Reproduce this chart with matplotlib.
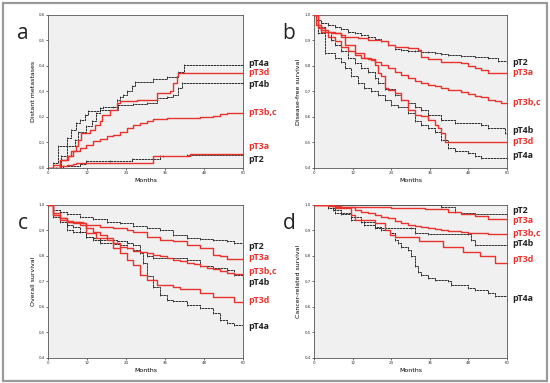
import matplotlib
matplotlib.use('Agg')
from matplotlib import pyplot as plt
from matplotlib.patches import Rectangle

# ---- panel a: distant metastases (cumulative) ----
a_pt2 = [(0, 0), (4.6, 0.007), (9.8, 0.016), (11.8, 0.026), (19.0, 0.029), (25.7, 0.035),
         (34.5, 0.046), (35.5, 0.048), (42.7, 0.052), (60, 0.052)]
a_pt3a = [(0, 0), (3.6, 0.007), (5.7, 0.013), (7.7, 0.016), (8.7, 0.020), (32.4, 0.046),
          (34.5, 0.048), (43.7, 0.056), (60, 0.056)]
a_pt3bc = [(0, 0), (1.5, 0.013), (3.6, 0.033), (5.7, 0.046), (7.7, 0.065), (9.8, 0.078),
           (11.8, 0.089), (13.9, 0.104), (15.9, 0.113), (18.0, 0.124), (20.1, 0.130),
           (22.1, 0.143), (24.2, 0.157), (26.2, 0.170), (28.3, 0.176), (30.4, 0.185),
           (32.4, 0.192), (34.5, 0.193), (36.5, 0.196), (46.8, 0.200), (50.9, 0.205),
           (53.0, 0.213), (55.1, 0.215), (60, 0.215)]
a_pt3d = [(0, 0), (3.6, 0.033), (6.2, 0.046), (7.2, 0.065), (8.7, 0.085), (9.3, 0.111),
          (10.3, 0.137), (12.9, 0.150), (14.4, 0.170), (15.9, 0.183), (16.5, 0.209),
          (19.0, 0.228), (21.1, 0.254), (22.1, 0.261), (27.3, 0.267), (33.4, 0.293),
          (37.6, 0.300), (38.6, 0.333), (39.6, 0.359), (40.1, 0.372), (60, 0.372)]
a_pt4a = [(0, 0), (1.5, 0.02), (3.1, 0.085), (5.7, 0.117), (7.2, 0.150), (8.7, 0.176),
          (9.8, 0.189), (11.3, 0.209), (12.3, 0.222), (15.9, 0.235), (17.0, 0.239),
          (20.1, 0.241), (21.1, 0.267), (22.1, 0.280), (23.2, 0.287), (24.2, 0.300),
          (25.7, 0.322), (26.8, 0.339), (32.4, 0.350), (36.5, 0.355), (40.1, 0.378),
          (41.7, 0.402), (60, 0.402)]
a_pt4b = [(0, 0), (2.6, 0.0), (4.1, 0.046), (5.7, 0.085), (8.2, 0.111), (9.3, 0.143),
          (11.8, 0.163), (13.4, 0.183), (14.9, 0.215), (15.9, 0.228), (21.6, 0.248),
          (26.2, 0.252), (30.4, 0.254), (33.4, 0.274), (36.5, 0.280), (38.6, 0.287),
          (40.1, 0.313), (41.2, 0.335), (60, 0.335)]

# ---- panel b: disease-free survival ----
b_pt2 = [(0, 1.0), (0.7, 0.98), (2.3, 0.967), (4.4, 0.961), (6.4, 0.954), (8.5, 0.944),
         (10.6, 0.935), (12.6, 0.928), (14.7, 0.922), (16.8, 0.915), (18.9, 0.905),
         (20.9, 0.896), (23.0, 0.883), (25.1, 0.866), (27.1, 0.863), (29.2, 0.859),
         (31.3, 0.857), (33.4, 0.854), (35.4, 0.853), (37.5, 0.850), (39.6, 0.846),
         (41.6, 0.843), (45.8, 0.840), (49.9, 0.834), (54.1, 0.830), (57.2, 0.821), (60, 0.811)]
b_pt3a = [(0, 1.0), (1.2, 0.961), (2.3, 0.941), (4.4, 0.935), (6.4, 0.928), (8.5, 0.922),
          (9.5, 0.915), (13.7, 0.909), (16.8, 0.902), (20.9, 0.896), (23.0, 0.883),
          (25.1, 0.876), (29.2, 0.870), (32.3, 0.863), (33.4, 0.837), (35.4, 0.827),
          (39.6, 0.817), (45.8, 0.811), (47.9, 0.800), (49.9, 0.791), (52.0, 0.785),
          (54.1, 0.774), (60, 0.774)]
b_pt3bc = [(0, 1.0), (0.7, 0.961), (2.3, 0.935), (4.4, 0.915), (6.4, 0.896), (8.5, 0.876),
           (10.6, 0.857), (12.6, 0.843), (14.7, 0.833), (16.8, 0.827), (18.9, 0.817),
           (20.9, 0.804), (23.0, 0.791), (25.1, 0.778), (27.1, 0.765), (29.2, 0.752),
           (31.3, 0.743), (33.4, 0.733), (35.4, 0.726), (37.5, 0.720), (39.6, 0.713),
           (41.6, 0.707), (43.7, 0.704), (45.8, 0.696), (47.9, 0.691), (49.9, 0.683),
           (52.0, 0.677), (54.1, 0.667), (56.2, 0.661), (58.2, 0.654), (60, 0.654)]
b_pt3d = [(0, 1.0), (1.2, 0.948), (3.3, 0.935), (5.4, 0.928), (8.5, 0.915), (9.5, 0.883),
          (12.6, 0.850), (15.7, 0.830), (17.8, 0.824), (18.9, 0.804), (19.9, 0.772),
          (20.9, 0.759), (22.0, 0.713), (23.0, 0.707), (25.1, 0.693), (27.1, 0.667),
          (29.2, 0.628), (31.3, 0.609), (33.4, 0.602), (35.4, 0.589), (37.5, 0.570),
          (38.5, 0.557), (39.6, 0.537), (40.6, 0.502), (60, 0.502)]
b_pt4a = [(0, 1.0), (1.2, 0.928), (3.3, 0.850), (6.4, 0.830), (8.5, 0.817), (9.5, 0.791),
          (11.6, 0.759), (13.7, 0.733), (15.7, 0.713), (17.8, 0.700), (19.9, 0.687),
          (22.0, 0.667), (24.0, 0.648), (26.1, 0.641), (29.2, 0.615), (31.3, 0.583),
          (33.4, 0.570), (35.4, 0.557), (37.5, 0.543), (39.6, 0.511), (41.6, 0.478),
          (43.7, 0.465), (47.9, 0.459), (49.9, 0.448), (52.0, 0.439), (60, 0.439)]
b_pt4b = [(0, 1.0), (1.2, 0.954), (3.3, 0.935), (5.4, 0.902), (6.4, 0.883), (8.5, 0.857),
          (10.6, 0.830), (12.6, 0.811), (14.7, 0.791), (16.8, 0.778), (18.9, 0.752),
          (19.9, 0.733), (22.0, 0.709), (25.1, 0.687), (27.1, 0.667), (29.2, 0.654),
          (31.3, 0.641), (33.4, 0.628), (35.4, 0.609), (39.6, 0.589), (43.7, 0.576),
          (52.0, 0.570), (54.1, 0.557), (59.3, 0.537), (60, 0.533)]

# ---- panel c: overall survival ----
c_pt2 = [(0, 1.0), (1.5, 0.98), (3.6, 0.974), (5.7, 0.965), (9.8, 0.954), (13.9, 0.944),
         (18.0, 0.935), (22.1, 0.928), (26.2, 0.918), (30.4, 0.909), (34.5, 0.900),
         (38.6, 0.883), (42.7, 0.872), (46.8, 0.867), (50.9, 0.863), (55.1, 0.857),
         (57.1, 0.850), (60, 0.840)]
c_pt3a = [(0, 1.0), (1.5, 0.961), (3.6, 0.948), (5.7, 0.939), (7.7, 0.935), (9.8, 0.928),
          (11.8, 0.922), (15.9, 0.915), (20.1, 0.909), (24.2, 0.902), (26.2, 0.896),
          (30.4, 0.876), (34.5, 0.863), (38.6, 0.857), (42.7, 0.843), (46.8, 0.830),
          (50.9, 0.804), (53.0, 0.798), (55.1, 0.789), (60, 0.789)]
c_pt3bc = [(0, 1.0), (1.5, 0.967), (3.6, 0.948), (5.7, 0.935), (7.7, 0.928), (9.8, 0.922),
           (11.8, 0.909), (13.9, 0.896), (15.9, 0.883), (18.0, 0.870), (20.1, 0.850),
           (22.1, 0.837), (24.2, 0.830), (26.2, 0.821), (28.3, 0.817), (30.4, 0.811),
           (32.4, 0.804), (34.5, 0.798), (36.5, 0.791), (38.6, 0.785), (40.6, 0.782),
           (42.7, 0.774), (44.8, 0.769), (46.8, 0.761), (48.9, 0.752), (50.9, 0.748),
           (53.0, 0.742), (55.1, 0.735), (57.1, 0.730), (60, 0.723)]
c_pt3d = [(0, 1.0), (1.5, 0.961), (3.6, 0.941), (5.7, 0.935), (10.8, 0.928), (11.8, 0.889),
          (14.9, 0.870), (18.0, 0.863), (20.1, 0.830), (22.1, 0.811), (24.2, 0.785),
          (26.2, 0.765), (28.3, 0.726), (30.4, 0.707), (33.4, 0.687), (38.6, 0.680),
          (40.6, 0.670), (46.8, 0.654), (50.9, 0.641), (55.1, 0.639), (57.1, 0.619), (60, 0.619)]
c_pt4a = [(0, 1.0), (1.5, 0.961), (3.6, 0.941), (5.7, 0.922), (7.7, 0.915), (9.8, 0.896),
          (11.8, 0.876), (13.9, 0.870), (15.9, 0.863), (21.1, 0.857), (24.2, 0.850),
          (26.2, 0.843), (28.3, 0.811), (29.3, 0.772), (30.4, 0.720), (32.4, 0.680),
          (34.5, 0.648), (36.5, 0.628), (38.6, 0.622), (42.7, 0.609), (46.8, 0.596),
          (50.9, 0.576), (53.0, 0.550), (55.1, 0.537), (57.1, 0.530), (60, 0.519)]
c_pt4b = [(0, 1.0), (1.5, 0.954), (3.6, 0.935), (5.7, 0.902), (7.7, 0.896), (11.8, 0.876),
          (13.9, 0.863), (15.9, 0.850), (20.1, 0.847), (22.1, 0.843), (24.2, 0.830),
          (26.2, 0.824), (28.3, 0.817), (30.4, 0.798), (32.4, 0.791), (42.7, 0.785),
          (46.8, 0.759), (50.9, 0.752), (55.1, 0.746), (57.1, 0.726), (60, 0.713)]

# ---- panel d: cancer-related survival ----
d_pt2 = [(0, 1.0), (39.6, 0.993), (43.7, 0.974), (45.8, 0.967), (49.9, 0.963), (60, 0.961)]
d_pt3a = [(0, 1.0), (6.4, 0.993), (14.7, 0.991), (24.0, 0.990), (34.4, 0.986), (37.5, 0.983),
          (41.6, 0.974), (45.8, 0.965), (49.9, 0.957), (54.1, 0.945), (60, 0.945)]
d_pt3bc = [(0, 1.0), (4.4, 0.996), (8.5, 0.991), (12.6, 0.980), (14.7, 0.974), (16.8, 0.967),
           (18.9, 0.961), (20.9, 0.954), (23.0, 0.948), (25.1, 0.939), (27.1, 0.928),
           (29.2, 0.922), (31.3, 0.918), (33.4, 0.913), (35.4, 0.909), (37.5, 0.905),
           (39.6, 0.900), (41.6, 0.898), (45.8, 0.896), (47.9, 0.892), (49.9, 0.889),
           (54.1, 0.885), (60, 0.885)]
d_pt3d = [(0, 1.0), (6.4, 0.987), (11.6, 0.961), (12.6, 0.941), (18.9, 0.928), (22.0, 0.902),
          (23.5, 0.883), (25.1, 0.876), (32.8, 0.857), (40.1, 0.837), (46.3, 0.817),
          (51.5, 0.798), (56.2, 0.774), (60, 0.774)]
d_pt4a = [(0, 1.0), (4.4, 0.987), (6.4, 0.967), (11.6, 0.954), (14.7, 0.935), (18.9, 0.915),
          (20.9, 0.902), (23.5, 0.889), (25.1, 0.863), (26.1, 0.850), (27.1, 0.837),
          (29.2, 0.824), (30.3, 0.798), (31.3, 0.759), (32.3, 0.739), (33.4, 0.726),
          (35.4, 0.713), (37.5, 0.707), (41.6, 0.700), (42.7, 0.687), (47.9, 0.674),
          (49.9, 0.667), (54.1, 0.654), (56.2, 0.644), (60, 0.628)]
d_pt4b = [(0, 1.0), (5.9, 0.980), (8.5, 0.965), (11.6, 0.941), (15.7, 0.922), (18.9, 0.909),
          (30.3, 0.909), (31.3, 0.889), (35.4, 0.887), (47.9, 0.885), (48.9, 0.863),
          (49.9, 0.843), (60, 0.843)]

# label heights at right side of each panel
names = ['pT2', 'pT3a', 'pT3b,c', 'pT3d', 'pT4a', 'pT4b']
a_label_y = [0.033, 0.085, 0.218, 0.374, 0.411, 0.329]
b_label_y = [0.813, 0.774, 0.657, 0.502, 0.450, 0.547]
c_label_y = [0.837, 0.795, 0.739, 0.626, 0.524, 0.696]
d_label_y = [0.980, 0.941, 0.889, 0.785, 0.635, 0.850]

xticks = [0, 12, 24, 36, 48, 60]
RED = '#e8322e'
BLACK = '#2a2a2a'


def draw_panel(ax, curves, label_y, ymin, ymax, ylabel, letter):
    ax.set_facecolor('#f0f0f0')
    for name, pts, ly in zip(names, curves, label_y):
        t = [p[0] for p in pts]
        v = [p[1] for p in pts]
        red = name.startswith('pT3')
        if red:
            ax.plot(t, v, drawstyle='steps-post', color=RED, linewidth=1.0, zorder=3)
        else:
            ax.plot(t, v, drawstyle='steps-post', color=BLACK, linewidth=0.7,
                    linestyle=(0, (2.5, 0.6)), zorder=2)
            ax.plot(t, v, linestyle='none', marker='|', markersize=1.8,
                    markeredgewidth=0.5, color=BLACK, zorder=2)
        ax.annotate(name, xy=(1.0, ly), xycoords=('axes fraction', 'data'),
                    xytext=(4, 0), textcoords='offset points', va='center', ha='left',
                    fontsize=6.4, fontweight='bold', family=['Open Sans', 'DejaVu Sans'],
                    color=RED if red else '#222222', annotation_clip=False)
    ax.set_xlim(0, 60)
    ax.set_ylim(ymin, ymax)
    ax.set_xticks(xticks)
    ax.set_xticklabels([str(x) for x in xticks])
    yt = [round(ymin + 0.1 * i, 1) for i in range(7)]
    ax.set_yticks(yt)
    ax.set_yticklabels([('%.1f' % y).replace('.', ',') for y in yt])
    ax.tick_params(labelsize=2.8, length=1.5, width=0.5, pad=1, colors='#333333')
    for s in ax.spines.values():
        s.set_linewidth(0.6)
        s.set_color('#555555')
    ax.set_xlabel('Months', fontsize=4.5, labelpad=1.5)
    ax.set_ylabel(ylabel, fontsize=4.5, labelpad=2)
    ax.text(-0.13, 0.88, letter, transform=ax.transAxes, fontsize=15, ha='center',
            va='center', color='#222222', family=['Open Sans', 'DejaVu Sans'])


fig = plt.figure(figsize=(5.5, 3.83), dpi=100)
fig.patches.append(Rectangle((0.005, 0.006), 0.99, 0.985, transform=fig.transFigure,
                             fill=False, edgecolor='#9a9a9a', linewidth=1.6))

ax_a = fig.add_axes([0.0873, 0.5614, 0.3545, 0.3995])
ax_b = fig.add_axes([0.5709, 0.5614, 0.3509, 0.3995])
ax_c = fig.add_axes([0.0873, 0.0653, 0.3545, 0.3995])
ax_d = fig.add_axes([0.5709, 0.0653, 0.3509, 0.3995])

draw_panel(ax_a, [a_pt2, a_pt3a, a_pt3bc, a_pt3d, a_pt4a, a_pt4b], a_label_y,
           0.0, 0.6, 'Distant metastases', 'a')
draw_panel(ax_b, [b_pt2, b_pt3a, b_pt3bc, b_pt3d, b_pt4a, b_pt4b], b_label_y,
           0.4, 1.0, 'Disease-free survival', 'b')
draw_panel(ax_c, [c_pt2, c_pt3a, c_pt3bc, c_pt3d, c_pt4a, c_pt4b], c_label_y,
           0.4, 1.0, 'Overall survival', 'c')
draw_panel(ax_d, [d_pt2, d_pt3a, d_pt3bc, d_pt3d, d_pt4a, d_pt4b], d_label_y,
           0.4, 1.0, 'Cancer-related survival', 'd')

fig.savefig('out.png', dpi=100)
